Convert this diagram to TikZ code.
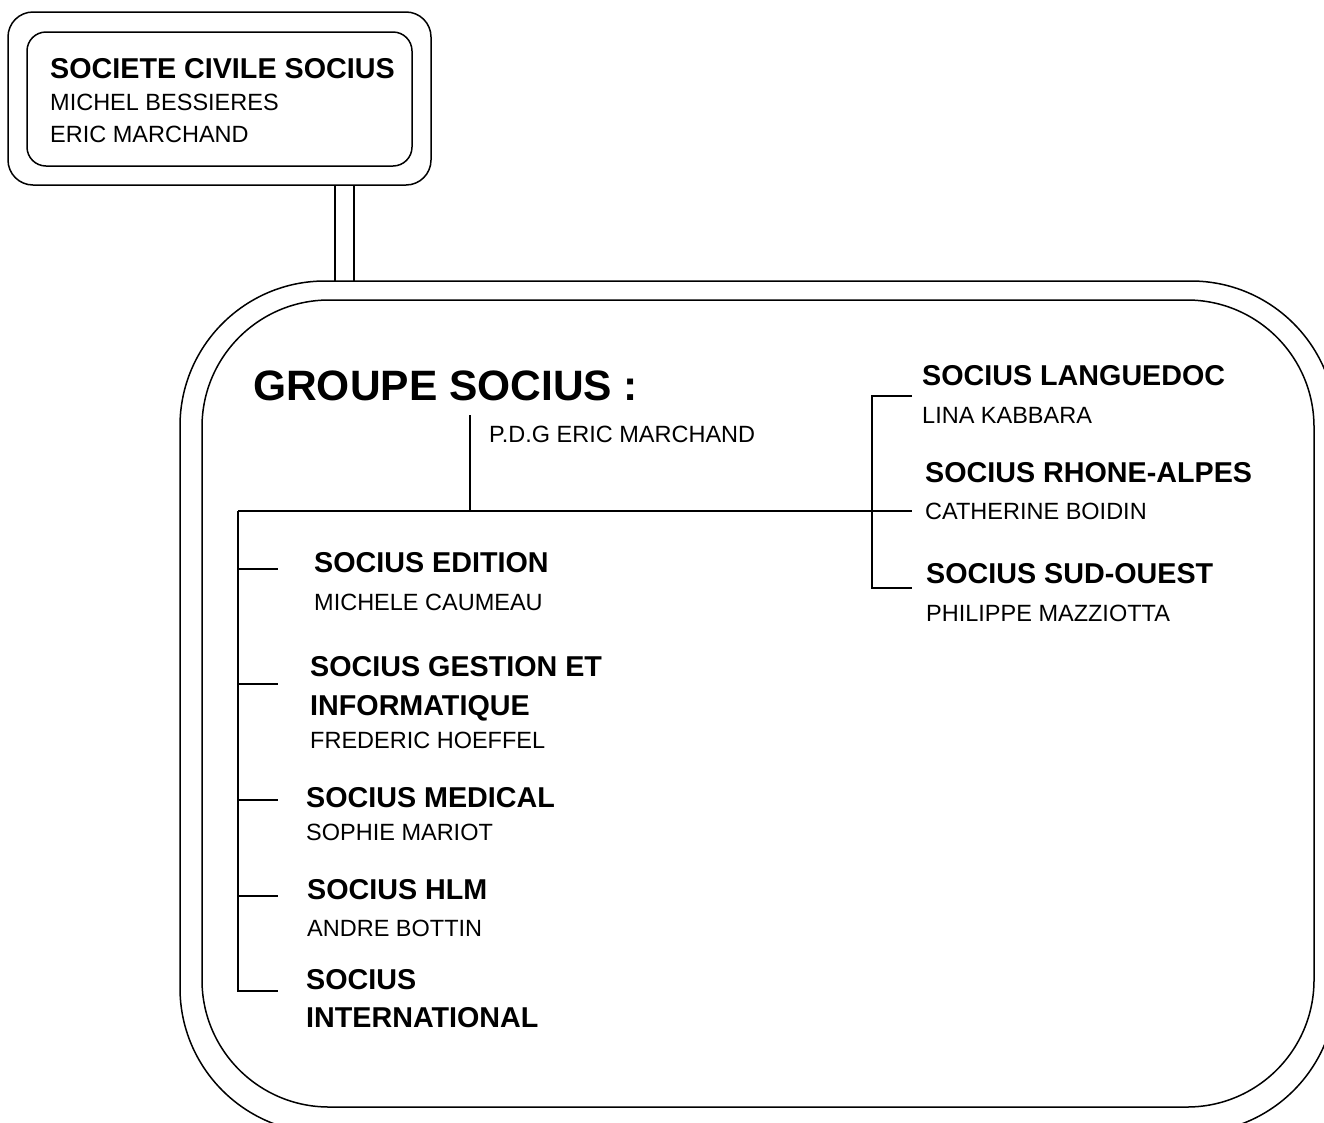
\documentclass[tikz,border=0pt]{standalone}
\usepackage{fontspec}
\setmainfont{Liberation Sans}
\tikzset{
  firm/.style={anchor=base west, inner sep=0pt, font=\bfseries\fontsize{28.7}{32}\selectfont},
  person/.style={anchor=base west, inner sep=0pt, font=\fontsize{23.5}{26}\selectfont},
  headline/.style={anchor=base west, inner sep=0pt, font=\bfseries\fontsize{42.5}{46}\selectfont},
  panel/.style={line width=1.5pt, rounded corners=#1},
  branch/.style={line width=1.5pt},
}

\begin{document}
\begin{tikzpicture}[x=1pt, y=-1pt]
  \useasboundingbox (0,0) rectangle (1324,1122);
  \clip (0,0) rectangle (1324,1122);

  \coordinate (linktop) at (344.5,185);
  \coordinate (linkbot) at (344.5,281);
  \draw[line width=1.5pt, double, double distance=17.5pt] (linktop) -- (linkbot);

  \draw[panel=25pt] (8,12) rectangle (431,185);
  \draw[panel=19pt] (27,32) rectangle (412,166);
  \draw[panel=145pt] (180,281) rectangle (1336,1133);
  \draw[panel=127pt] (202,300) rectangle (1314,1107);

  \node[firm] (civile) at (50,78) {SOCIETE CIVILE SOCIUS};
  \node[person] (bessieres) at (50,110) {MICHEL BESSIERES};
  \node[person] (marchand) at (50,142) {ERIC MARCHAND};

  \node[headline] (groupe) at (253,400) {GROUPE SOCIUS :};
  \node[person] (pdg) at (489,442) {P.D.G ERIC MARCHAND};

  \node[firm] (edition) at (314,572) {SOCIUS EDITION};
  \node[person] (caumeau) at (314,610) {MICHELE CAUMEAU};
  \node[firm] (gestion) at (310,676) {SOCIUS GESTION ET};
  \node[firm] (informatique) at (310,715) {INFORMATIQUE};
  \node[person] (hoeffel) at (310,748) {FREDERIC HOEFFEL};
  \node[firm] (medical) at (306,807) {SOCIUS MEDICAL};
  \node[person] (mariot) at (306,840) {SOPHIE MARIOT};
  \node[firm] (hlm) at (307,899) {SOCIUS HLM};
  \node[person] (bottin) at (307,936) {ANDRE BOTTIN};
  \node[firm] (socius) at (306,989) {SOCIUS};
  \node[firm] (international) at (306,1027) {INTERNATIONAL};

  \node[firm] (languedoc) at (922,385) {SOCIUS LANGUEDOC};
  \node[person] (kabbara) at (922,423) {LINA KABBARA};
  \node[firm] (rhone) at (925,482) {SOCIUS RHONE-ALPES};
  \node[person] (boidin) at (925,519) {CATHERINE BOIDIN};
  \node[firm] (sudouest) at (926,583) {SOCIUS SUD-OUEST};
  \node[person] (mazziotta) at (926,621) {PHILIPPE MAZZIOTTA};

  \coordinate (pdgstem) at (470,415);
  \coordinate (hub) at (470,511);
  \coordinate (westend) at (238,511);
  \coordinate (eastend) at (912,511);
  \draw[branch] (pdgstem) -- (hub);
  \draw[branch] (westend) -- (eastend);

  \coordinate (intlcorner) at (238,991);
  \coordinate (intltick) at (278,991);
  \draw[branch] (westend) -- (intlcorner) -- (intltick);
  \coordinate (editionfoot) at (238,569);
  \coordinate (editiontick) at (278,569);
  \coordinate (gestionfoot) at (238,684);
  \coordinate (gestiontick) at (278,684);
  \coordinate (medicalfoot) at (238,800);
  \coordinate (medicaltick) at (278,800);
  \coordinate (hlmfoot) at (238,896);
  \coordinate (hlmtick) at (278,896);
  \draw[branch] (editionfoot) -- (editiontick);
  \draw[branch] (gestionfoot) -- (gestiontick);
  \draw[branch] (medicalfoot) -- (medicaltick);
  \draw[branch] (hlmfoot) -- (hlmtick);

  \coordinate (langtick) at (912,396);
  \coordinate (langcorner) at (872,396);
  \coordinate (sudcorner) at (872,588);
  \coordinate (sudtick) at (912,588);
  \draw[branch] (langtick) -- (langcorner) -- (sudcorner) -- (sudtick);
\end{tikzpicture}
\end{document}
